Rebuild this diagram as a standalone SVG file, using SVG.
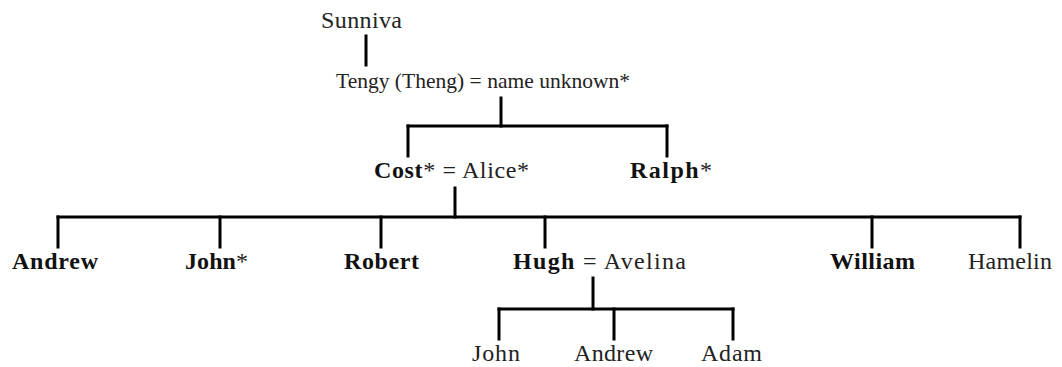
<svg xmlns="http://www.w3.org/2000/svg" width="1062" height="367" viewBox="0 0 1062 367">
<style>
text{font-family:"Liberation Serif","Times New Roman",serif;font-size:24px;fill:#222}
.b{font-weight:bold;fill:#111}
.c line{stroke:#000;stroke-width:3;stroke-linecap:square}
</style>
<rect width="1062" height="367" fill="#fff"/>
<g class="c" id="connectors">
<line x1="366" y1="36" x2="366" y2="65"/>
<line x1="501" y1="98" x2="501" y2="126"/>
<line x1="408" y1="126" x2="667" y2="126"/>
<line x1="408" y1="126" x2="408" y2="156"/>
<line x1="667" y1="126" x2="667" y2="156"/>
<line x1="455" y1="188" x2="455" y2="217"/>
<line x1="58" y1="217" x2="1020" y2="217"/>
<line x1="58" y1="217" x2="58" y2="247"/>
<line x1="220" y1="217" x2="220" y2="247"/>
<line x1="381" y1="217" x2="381" y2="247"/>
<line x1="545" y1="217" x2="545" y2="247"/>
<line x1="872" y1="217" x2="872" y2="247"/>
<line x1="1020" y1="217" x2="1020" y2="247"/>
<line x1="593" y1="278" x2="593" y2="309"/>
<line x1="499" y1="309" x2="733" y2="309"/>
<line x1="499" y1="309" x2="499" y2="339"/>
<line x1="614" y1="309" x2="614" y2="339"/>
<line x1="733" y1="309" x2="733" y2="339"/>
</g>
<g id="sunniva"><text x="321" y="28" textLength="81">Sunniva</text></g>
<g id="tengy"><text x="336" y="88" textLength="294" style="font-size:21.5px">Tengy (Theng) = name unknown*</text></g>
<g id="cost"><text x="374" y="178" textLength="155"><tspan class="b">Cost</tspan>* = Alice*</text></g>
<g id="ralph"><text x="630" y="178" textLength="82"><tspan class="b">Ralph</tspan>*</text></g>
<g id="andrew"><text class="b" x="12" y="269" textLength="86">Andrew</text></g>
<g id="john"><text x="185" y="269" textLength="63"><tspan class="b">John</tspan>*</text></g>
<g id="robert"><text class="b" x="344" y="269" textLength="75">Robert</text></g>
<g id="hugh"><text x="513" y="269" textLength="173"><tspan class="b">Hugh</tspan> = Avelina</text></g>
<g id="william"><text class="b" x="830" y="269" textLength="85">William</text></g>
<g id="hamelin"><text x="968" y="269" textLength="84">Hamelin</text></g>
<g id="john2"><text x="472" y="361" textLength="48">John</text></g>
<g id="andrew2"><text x="574" y="361" textLength="79">Andrew</text></g>
<g id="adam"><text x="701" y="361" textLength="61">Adam</text></g>
</svg>
